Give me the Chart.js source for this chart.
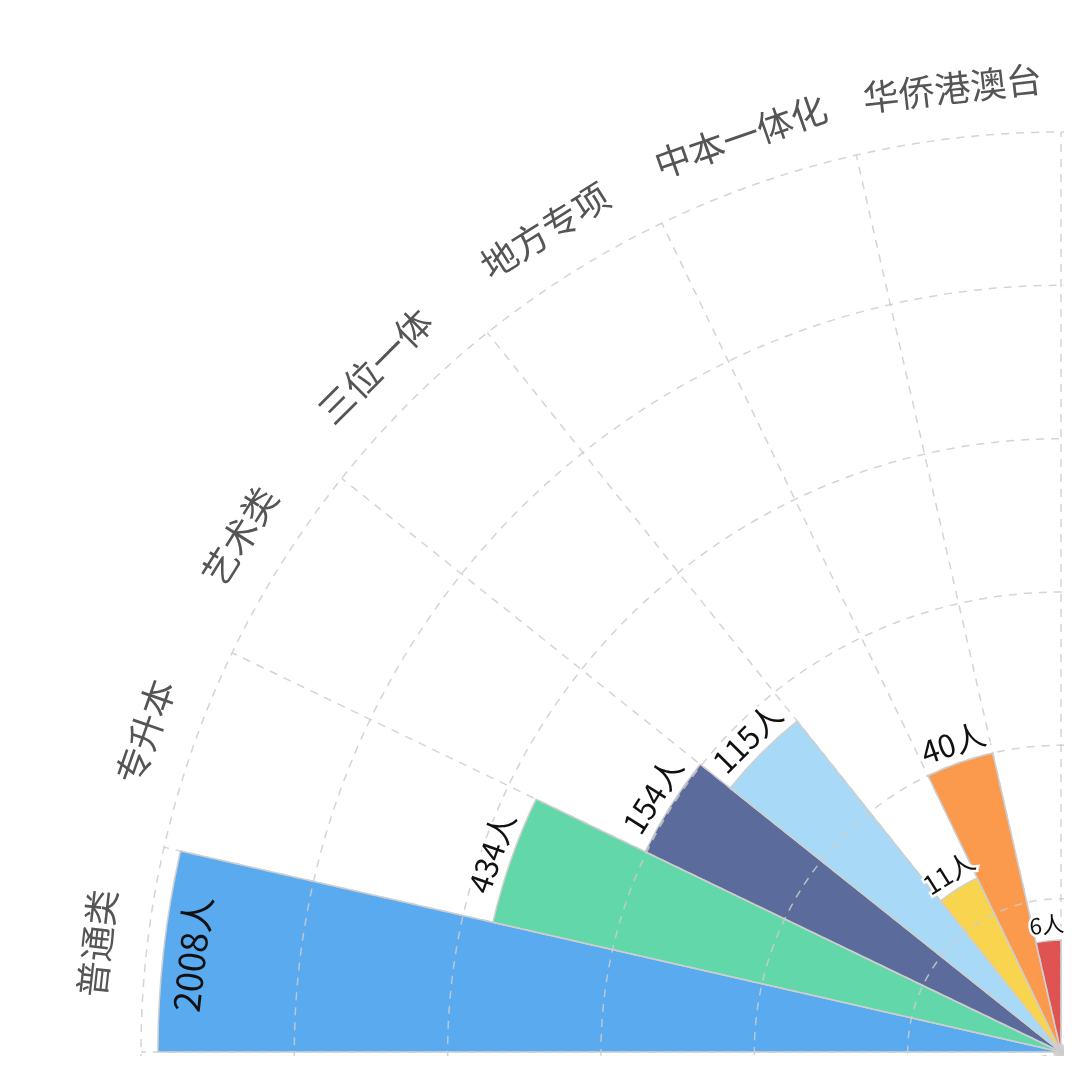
<!DOCTYPE html>
<html>
<head>
<meta charset="utf-8">
<script src="https://cdn.jsdelivr.net/npm/chart.js@4"></script>
<style>
  html, body { margin: 0; padding: 0; background: #fff; overflow: hidden; }
  #clip { position: absolute; left: 0; top: 0; width: 1064px; height: 1056px; overflow: hidden; }
  #rose { position: absolute; left: 41px; top: 32px; }
</style>
</head>
<body>
<div id="clip"><canvas id="rose" width="2040" height="2040"></canvas></div>
<script>
// categories (clockwise from the left)
var categories = ['普通类', '专升本', '艺术类', '三位一体', '地方专项', '中本一体化', '华侨港澳台'];
// people per category, shown as labels
var counts = [2008, 434, 154, 115, 11, 40, 6];
// bar length in grid rings, as drawn
var radiusValues = [5.89, 3.80, 3.01, 2.76, 1.26, 2.0, 0.73];
var colors = ['#5aaaf0', '#62d7a9', '#5b6b9b', '#a8daf7', '#f8d44f', '#fb9a4d', '#e05353'];

// 28 slots so each slice is a quarter circle / 7
var slots = categories.concat(new Array(21).fill(''));

// text along the arc
var arcLabels = {
  id: 'arcLabels',
  afterDraw: function(chart) {
    var ctx = chart.ctx;
    var scale = chart.scales.r;
    var arcs = chart.getDatasetMeta(0).data;
    ctx.save();
    ctx.textAlign = 'center';
    ctx.textBaseline = 'middle';
    arcs.forEach(function(arc, i) {
      var mid = (arc.startAngle + arc.endAngle) / 2;
      var rot = mid + Math.PI / 2;

      // value label, smaller for the thin slices
      var n = counts[i];
      var size = n >= 1000 ? 36 : (n >= 40 ? 31 : (n >= 10 ? 26 : 22));
      var inside = arc.outerRadius + 40 > scale.drawingArea;
      var r = inside ? arc.outerRadius - 29 : arc.outerRadius + size / 2 + 5;
      ctx.save();
      ctx.translate(arc.x + Math.cos(mid) * r, arc.y + Math.sin(mid) * r);
      ctx.rotate(rot);
      ctx.font = size + 'px "Noto Sans CJK SC", "Noto Sans"';
      if (!inside) {
        ctx.lineWidth = 5;
        ctx.strokeStyle = '#fff';
        ctx.strokeText(n + '人', 0, 0);
      }
      ctx.fillStyle = '#111';
      ctx.fillText(n + '人', 0, 0);
      ctx.restore();

      // category label
      var rc = scale.drawingArea + 50;
      ctx.save();
      ctx.translate(arc.x + Math.cos(mid) * rc, arc.y + Math.sin(mid) * rc);
      ctx.rotate(rot);
      ctx.font = '36px "Noto Sans CJK SC"';
      ctx.fillStyle = '#555';
      ctx.fillText(categories[i], 0, 0);
      ctx.restore();
    });
    ctx.restore();
  }
};

var ctx = document.getElementById('rose').getContext('2d');
var rose = new Chart(ctx, {
  type: 'polarArea',
  data: {
    labels: slots,
    datasets: [{
      data: radiusValues,
      backgroundColor: colors,
      borderColor: '#cfcfcf',
      borderWidth: 1.5,
      angle: 360 / slots.length
    }]
  },
  options: {
    responsive: false,
    devicePixelRatio: 1,
    animation: false,
    layout: { padding: 100 },
    plugins: {
      legend: { display: false },
      tooltip: { enabled: false }
    },
    scales: {
      r: {
        startAngle: 270,
        min: 0,
        max: 6,
        ticks: { display: false, stepSize: 1, z: 1 },
        pointLabels: { display: false },
        grid: { z: 1, circular: true, color: 'rgba(205,205,205,0.85)', lineWidth: 1.5 },
        border: { dash: [8, 7] },
        angleLines: { display: true, color: 'rgba(205,205,205,0.85)', lineWidth: 1.5, borderDash: [8, 7] }
      }
    }
  },
  plugins: [arcLabels]
});
</script>
</body>
</html>
